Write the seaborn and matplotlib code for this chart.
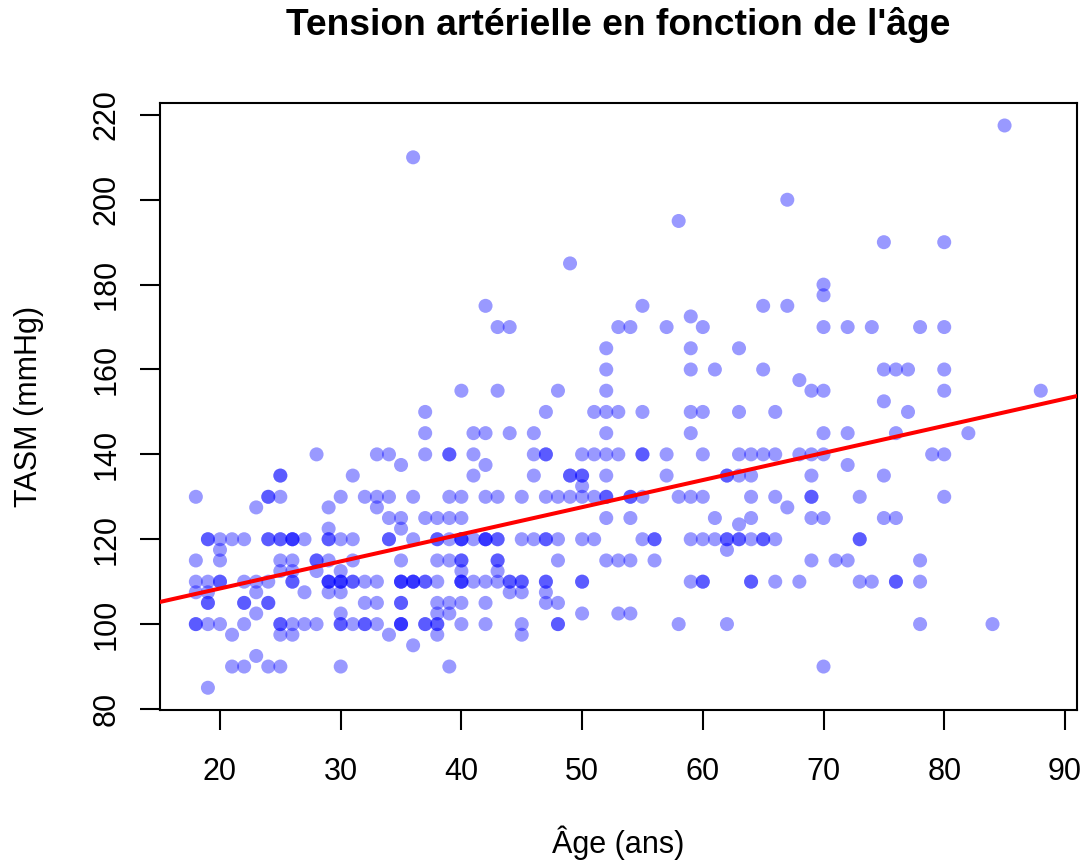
import numpy as np
import pandas as pd
import matplotlib
matplotlib.use("Agg")
import matplotlib.pyplot as plt
import seaborn as sns

# ---- data: systolic blood pressure (TASM, mmHg) grouped by age (years) ----
tasm_18_29 = {
    18: [130, 115, 110, 107.5, 100, 100],
    19: [120, 120, 110, 107.5, 105, 105, 100, 85],
    20: [120, 117.5, 115, 110, 110, 100],
    21: [120, 97.5, 90],
    22: [120, 110, 105, 105, 100, 90],
    23: [127.5, 110, 107.5, 102.5, 92.5],
    24: [130, 130, 120, 120, 110, 105, 105, 90],
    25: [135, 135, 130, 120, 120, 115, 112.5, 100, 100, 97.5, 90],
    26: [120, 120, 120, 115, 112.5, 110, 110, 100, 97.5],
    27: [120, 107.5, 100],
    28: [140, 115, 115, 112.5, 100],
    29: [127.5, 122.5, 120, 120, 115, 110, 110, 110, 107.5],
}
tasm_30_39 = {
    30: [130, 120, 112.5, 110, 110, 110, 107.5, 102.5, 100, 100, 90],
    31: [135, 120, 115, 110, 110, 100],
    32: [130, 110, 105, 100, 100],
    33: [140, 130, 127.5, 110, 105, 100],
    34: [140, 130, 125, 120, 120, 97.5],
    35: [137.5, 125, 122.5, 115, 110, 110, 110, 105, 105, 100, 100, 100],
    36: [210, 130, 120, 110, 110, 110, 95],
    37: [150, 145, 140, 125, 110, 110, 100, 100],
    38: [125, 120, 120, 115, 110, 105, 102.5, 100, 100, 97.5],
    39: [140, 140, 130, 125, 120, 115, 105, 102.5, 90],
}
tasm_40_49 = {
    40: [155, 130, 125, 120, 120, 120, 115, 115, 112.5, 110, 110, 110, 105, 100],
    41: [145, 140, 135, 120, 110],
    42: [175, 145, 137.5, 130, 120, 120, 120, 110, 105, 100],
    43: [170, 155, 130, 120, 120, 115, 115, 112.5, 110],
    44: [170, 145, 110, 110, 107.5],
    45: [130, 120, 110, 110, 107.5, 100, 97.5],
    46: [145, 140, 135, 120],
    47: [150, 140, 140, 130, 120, 120, 110, 110, 107.5, 105],
    48: [155, 130, 120, 115, 105, 100, 100],
    49: [185, 135, 135, 130],
}
tasm_50_59 = {
    50: [140, 135, 135, 132.5, 130, 120, 110, 110, 102.5],
    51: [150, 140, 130, 120],
    52: [165, 160, 155, 150, 145, 140, 135, 130, 130, 125, 115],
    53: [170, 150, 140, 115, 102.5],
    54: [170, 130, 130, 125, 115, 102.5],
    55: [175, 150, 140, 140, 130, 120],
    56: [120, 120, 115],
    57: [170, 140, 135],
    58: [195, 130, 100],
    59: [172.5, 165, 160, 150, 145, 130, 120, 110],
}
tasm_60_69 = {
    60: [170, 150, 140, 130, 120, 110, 110],
    61: [160, 125, 120],
    62: [135, 135, 120, 120, 117.5, 100],
    63: [165, 150, 140, 135, 123.5, 120, 120],
    64: [140, 135, 130, 125, 120, 110, 110],
    65: [175, 160, 140, 120, 120],
    66: [150, 140, 130, 120, 110],
    67: [200, 175, 127.5],
    68: [157.5, 140, 110],
    69: [155, 140, 135, 130, 130, 125, 115],
}
tasm_70_88 = {
    70: [180, 177.5, 170, 155, 145, 140, 125, 90],
    71: [115],
    72: [170, 145, 137.5, 115],
    73: [130, 120, 120, 110],
    74: [170, 110],
    75: [190, 160, 152.5, 135, 125],
    76: [160, 145, 125, 110, 110],
    77: [160, 150],
    78: [170, 115, 110, 100],
    79: [140],
    80: [190, 170, 160, 155, 140, 130],
    82: [145],
    84: [100],
    85: [217.5],
    88: [155],
}

x_ticks = [20, 30, 40, 50, 60, 70, 80, 90]
y_ticks = [80, 100, 120, 140, 160, 180, 200, 220]
title = "Tension artérielle en fonction de l'âge"
x_label = "Âge (ans)"
y_label = "TASM (mmHg)"

rows = []
for group in (tasm_18_29, tasm_30_39, tasm_40_49, tasm_50_59, tasm_60_69, tasm_70_88):
    for age, vals in group.items():
        for v in vals:
            rows.append((age, v))
df = pd.DataFrame(rows, columns=["age", "tasm"])

# ---- style ----
sns.set_style("white")
plt.rcParams["font.family"] = ["Liberation Sans", "DejaVu Sans"]
plt.rcParams["text.color"] = "black"

W, H = 1085, 863
fig = plt.figure(figsize=(W / 100, H / 100), dpi=100)
L, R, T, B = 160, 1077, 103, 710
ax = fig.add_axes([L / W, 1 - B / H, (R - L) / W, (B - T) / H])

xlim = (15.03, 91.0)
ylim = (79.76, 222.8)
ax.set_xlim(*xlim)
ax.set_ylim(*ylim)

sns.scatterplot(data=df, x="age", y="tasm", ax=ax, color="blue", alpha=0.4,
                s=102, linewidth=0, edgecolor="none", legend=False)

# least-squares regression line across the whole plotting region
slope, intercept = np.polyfit(df["age"], df["tasm"], 1)
ax.axline((0, intercept), slope=slope, color="red", lw=2.9, zorder=3)

ax.set_xlim(*xlim)
ax.set_ylim(*ylim)
ax.set_xticks(x_ticks)
ax.set_yticks(y_ticks)
ax.set_xlabel("")
ax.set_ylabel("")

for s in ax.spines.values():
    s.set_linewidth(1.5)
    s.set_color("black")

FS = 22
tick_len = 20 * 0.72
ax.tick_params(axis="both", direction="out", length=tick_len, width=1.5,
               colors="black", labelcolor="black", labelsize=FS,
               bottom=True, left=True)
ax.tick_params(axis="x", pad=(780 - 730) * 0.72)
ax.tick_params(axis="y", pad=(141.7 - 116.5) * 0.72)

for lab in ax.get_xticklabels():
    lab.set_verticalalignment("baseline")
for lab in ax.get_yticklabels():
    lab.set_rotation(90)
    lab.set_rotation_mode("anchor")
    lab.set_horizontalalignment("center")
    lab.set_verticalalignment("baseline")

cx = (L + R) / 2 / W
fig.text(cx, 1 - 35 / H, title, ha="center", va="baseline",
         fontsize=26.8, fontweight="bold", color="black")
fig.text(cx, 1 - 853 / H, x_label, ha="center", va="baseline", fontsize=FS,
         color="black")
fig.text(37 / W, 1 - (T + B) / 2 / H, y_label, rotation=90, rotation_mode="anchor",
         ha="center", va="baseline", fontsize=FS, color="black")

fig.savefig("out.png", dpi=100, facecolor="white")
